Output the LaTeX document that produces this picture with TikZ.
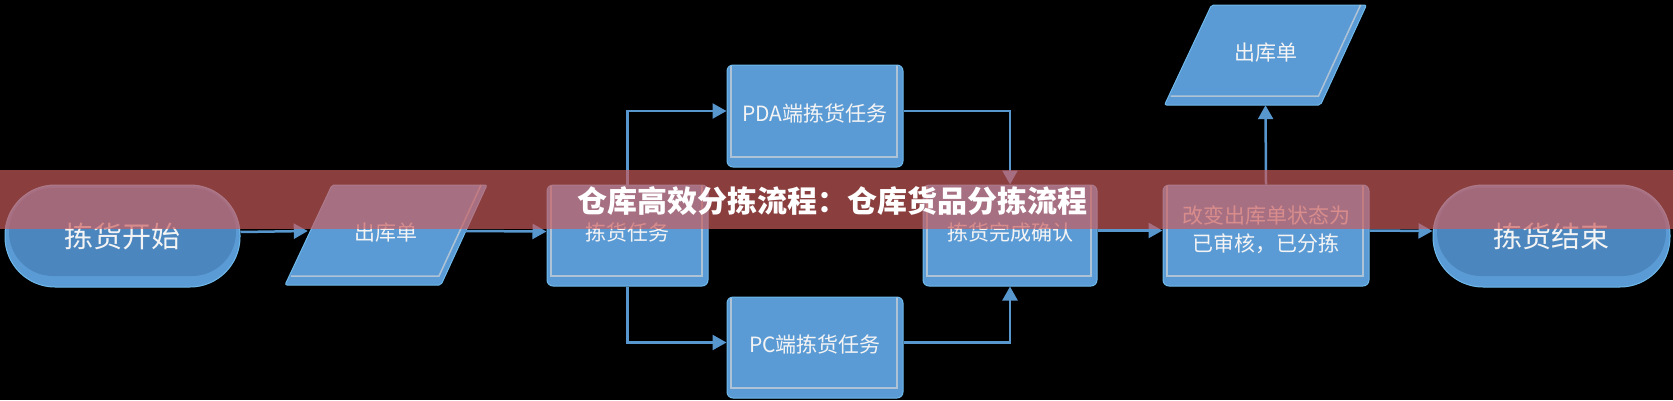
\documentclass[tikz,border=0pt]{standalone}
\usepackage{fontspec}
\newfontfamily\cjk{Noto Sans CJK SC}
\usetikzlibrary{arrows.meta,calc}
\definecolor{nodeblue}{RGB}{91,155,213}
\definecolor{stadin}{RGB}{76,134,190}
\definecolor{rim}{RGB}{110,185,235}
\definecolor{bevelc}{RGB}{175,195,215}
\definecolor{linkblue}{RGB}{88,150,206}
\definecolor{bandred}{RGB}{204,92,92}
\definecolor{txt}{RGB}{244,244,244}
\begin{document}
\begin{tikzpicture}[x=1pt,y=-1pt,
  boxnode/.style={rectangle, rounded corners=6pt, fill=nodeblue, draw=rim, line width=1pt, text=txt,
    font=\cjk\fontsize{21}{28}\selectfont, inner sep=0pt, text height=15pt, text depth=5pt,
    path picture={\draw[bevelc, line width=1.5pt, sharp corners]
      ([xshift=4pt]path picture bounding box.north west) --
      ([xshift=4pt,yshift=10pt]path picture bounding box.south west) --
      ([xshift=-6pt,yshift=10pt]path picture bounding box.south east) --
      ([xshift=-6pt]path picture bounding box.north east);}},
  termnode/.style={rectangle, rounded corners=50pt, fill=nodeblue, draw=rim, line width=1pt, text=txt,
    font=\cjk\fontsize{29}{34}\selectfont, inner sep=0pt, minimum height=102pt,
    path picture={\fill[stadin, rounded corners=44pt]
      ([xshift=4pt,yshift=-3pt]path picture bounding box.north west) rectangle
      ([xshift=-4pt,yshift=11pt]path picture bounding box.south east);}},
  datatext/.style={rectangle, inner sep=0pt, minimum width=156pt, minimum height=100pt, text=txt,
    font=\cjk\fontsize{21}{28}\selectfont, text height=15pt, text depth=5pt},
  datashape/.style={fill=nodeblue, draw=rim, line width=1pt, rounded corners=2pt},
  conn/.style={draw=linkblue, line width=2.5pt, -{Triangle[length=14pt,width=15pt]}},
  bevelline/.style={bevelc, line width=1.5pt},
  titletext/.style={font=\cjk\bfseries\fontsize{30}{36}\selectfont, text=white}
]
\useasboundingbox (0,0) rectangle (1673,400);
\fill[black] (0,0) rectangle (1673,400);

% data (parallelogram) shapes
\coordinate (p1c) at (386,235);
\coordinate (p2c) at (1265.5,55);
\foreach \c in {p1c,p2c}{
  \draw[datashape] ($(\c)+(-54,-50)$) -- ($(\c)+(101,-50)$) -- ($(\c)+(55,50)$) -- ($(\c)+(-101,50)$) -- cycle;
  \draw[bevelline] ($(\c)+(-95,41)$) -- ($(\c)+(53,41)$) -- ($(\c)+(95,-50)$);
}

% nodes
\node[termnode, minimum width=235pt] (start) at (122.5,236) {拣货开始};
\node[datatext] (p1) at (p1c) {出库单};
\node[boxnode, minimum width=161pt, minimum height=101pt] (task) at (627.5,235.5) {拣货任务};
\node[boxnode, minimum width=176pt, minimum height=102pt] (pda) at (815,116) {PDA端拣货任务};
\node[boxnode, minimum width=176pt, minimum height=101pt] (pc) at (815,347.5) {PC端拣货任务};
\node[boxnode, minimum width=174pt, minimum height=101pt] (confirm) at (1010,235.5) {拣货完成确认};
\node[boxnode, minimum width=206pt, minimum height=101pt, text height=40pt, text depth=9pt] (change) at (1266,235.5)
  {\vbox{\hbox{改变出库单状态为}\hbox to 168pt{\hfil 已审核，已分拣\hfil}}};
\node[datatext] (p2) at (p2c) {出库单};
\node[termnode, minimum width=237pt] (end) at (1551.5,236) {拣货结束};

% connectors
\draw[conn] ([yshift=4pt]start.east) -- ([yshift=4pt]p1.west);
\draw[conn] ([yshift=4pt]p1.east) -- ([yshift=4pt]task.west);
\draw[conn] (task.north) |- ([yshift=5pt]pda.west);
\draw[conn] (task.south) |- ([yshift=5pt]pc.west);
\draw[conn] ([yshift=5pt]pda.east) -| (confirm.north);
\draw[conn] ([yshift=5pt]pc.east) -| (confirm.south);
\draw[conn] ([yshift=5pt]confirm.east) -- ([yshift=5pt]change.west);
\draw[conn] (change.north) -- (p2.south);
\draw[conn] ([yshift=5pt]change.east) -- ([yshift=5pt]end.west);

% title band
\fill[bandred, opacity=0.68] (0,170) rectangle (1673,229);
\node[titletext] (title) at (832,201) {仓库高效分拣流程：仓库货品分拣流程};
\end{tikzpicture}
\end{document}
